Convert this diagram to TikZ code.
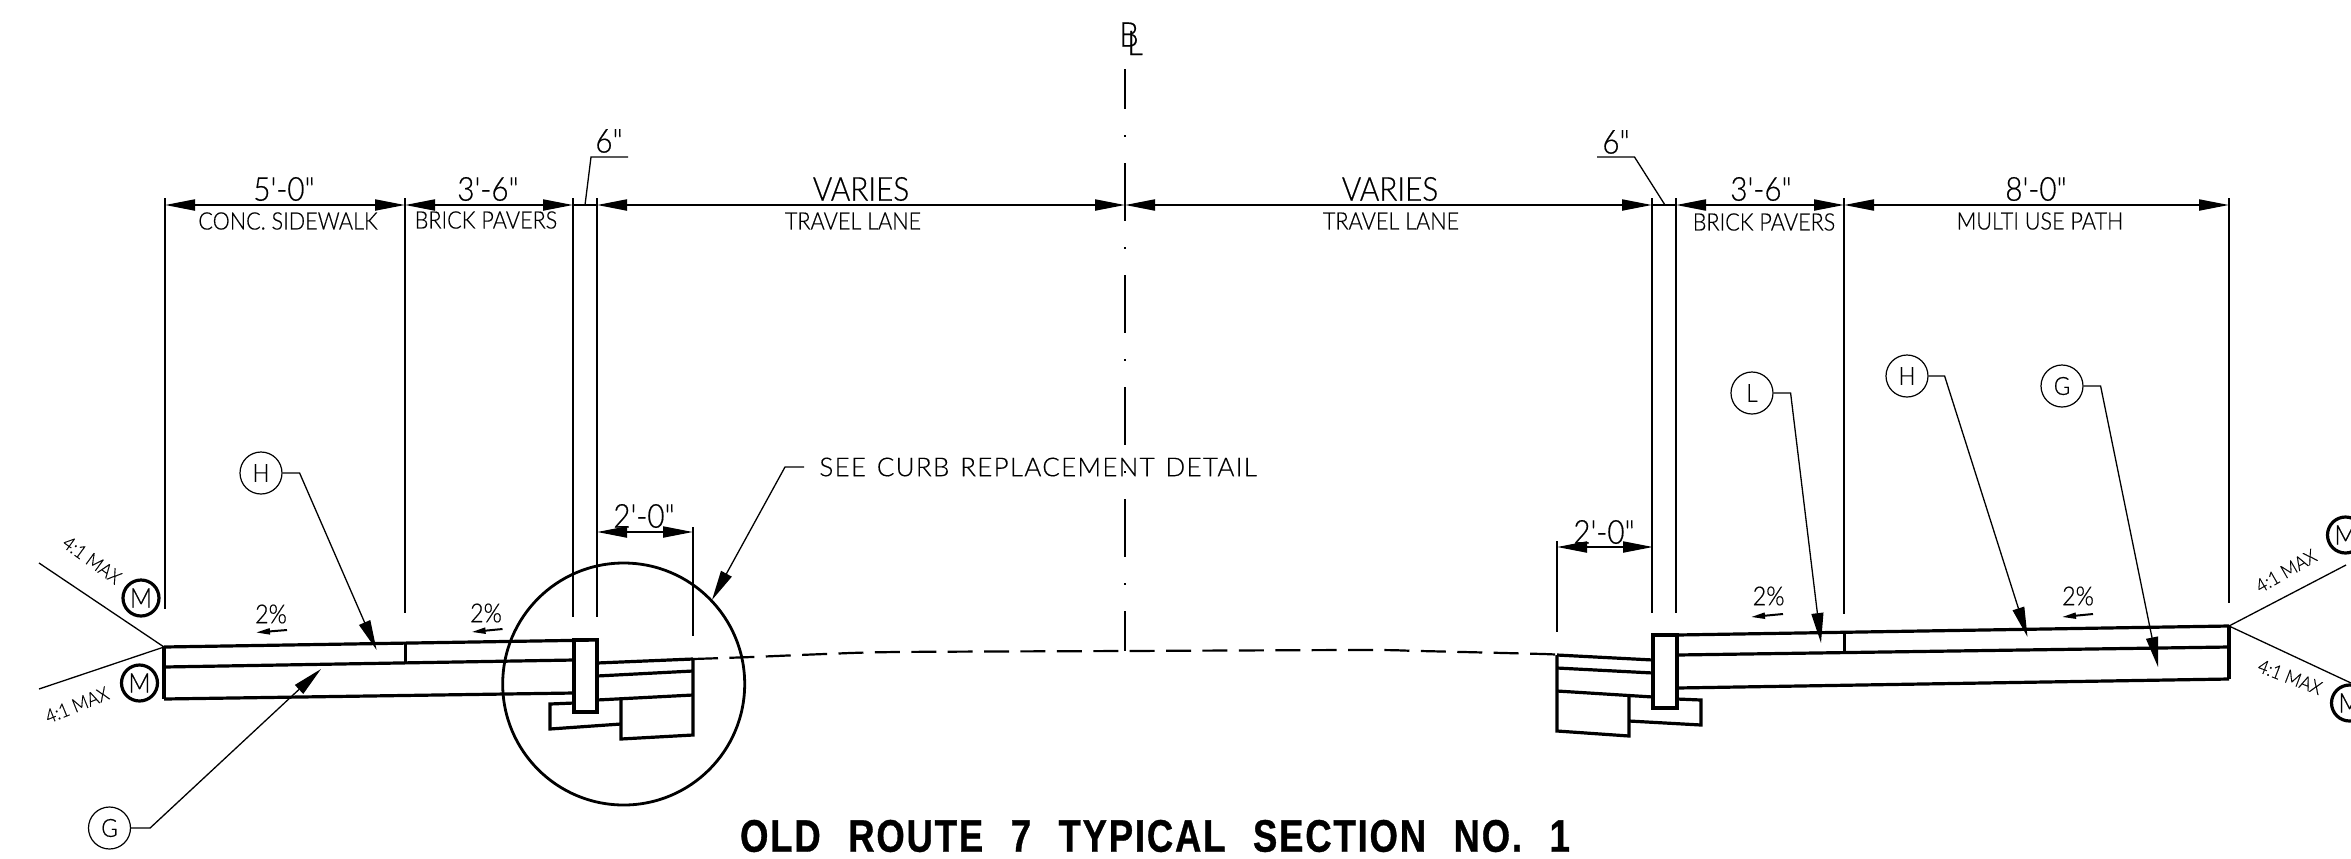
\documentclass[tikz,border=0pt]{standalone}
\usepackage{fontspec}
\setmainfont{Liberation Sans}
\newfontfamily\thin[FakeBold=0.5,FakeStretch=0.9]{Lato Light}
\newfontfamily\titlefont[FakeBold=0.7,FakeStretch=0.8,LetterSpace=4.0,WordSpace=2.3]{Liberation Sans Bold}
\newfontfamily\seefont[FakeBold=0.4,LetterSpace=4.9,WordSpace=1.3]{Lato Light}
\usetikzlibrary{arrows.meta}
\tikzset{
  slab/.style={line width=1.6pt,line join=miter},
  bigc/.style={line width=1.4pt},
  ext/.style={line width=0.8pt},
  dimline/.style={line width=1pt,{Triangle[length=15pt,width=5.5pt]}-{Triangle[length=15pt,width=5.5pt]}},
  plainline/.style={line width=1pt},
  lead/.style={line width=0.65pt,-{Triangle[length=15pt,width=6pt]}},
  elbow/.style={line width=0.65pt},
  slopearr/.style={line width=1pt,-{Triangle[length=7pt,width=3pt]}},
  tag/.style={draw,circle,line width=0.6pt,minimum size=21pt,inner sep=0pt,font=\thin\fontsize{12.5}{14}\selectfont},
  mtag/.style={draw,circle,line width=1.6pt,minimum size=18pt,inner sep=0pt,font=\thin\fontsize{13.5}{14}\selectfont},
  big/.style={inner sep=0pt,font=\thin\fontsize{16.5}{18}\selectfont},
  small/.style={inner sep=0pt,font=\thin\fontsize{12}{13}\selectfont},
  slopetxt/.style={inner sep=0pt,font=\thin\fontsize{13}{14}\selectfont},
  maxtxt/.style={inner sep=0pt,font=\thin\fontsize{9.6}{10}\selectfont},
  road/.style={line width=1.1pt,dash pattern=on 12.5pt off 5.7pt},
}
\begin{document}
\begin{tikzpicture}[x=0.5pt,y=-0.5pt]
\useasboundingbox (0,0) rectangle (2351,858);
% extension lines
\foreach \n/\x/\t/\b in {a/165/198/609,b/405/198/613,c/573/198/617,d/597/198/617,e/1652/198/613,f/1676/198/613,g/1844/198/614,h/2229/198/603}{
  \coordinate (\n) at (\x,205);
  \draw[ext] (\x,\t) -- (\x,\b);
}
\coordinate (m) at (1125,205);
\coordinate (p) at (597,532);
\coordinate (q) at (693,532);
\coordinate (r) at (1557,547);
\coordinate (s) at (1653,547);
\draw[ext] (693,527) -- (693,636);
\draw[ext] (1557,541) -- (1557,632);
% centre line
\draw[ext] (1125,69) -- (1125,109);
\foreach \y in {136,248,360,472,584}{\fill (1123.9,\y-1.2) rectangle (1126.1,\y+1.2);}
\foreach \y/\z in {163/221,275/333,387/445,499/557,611/651}{\draw[ext] (1125,\y) -- (1125,\z);}
% dimensions
\draw[dimline] (a) -- (b);
\draw[dimline] (b) -- (c);
\draw[plainline] (c) -- (d);
\draw[dimline] (d) -- (m);
\draw[dimline] (m) -- (e);
\draw[plainline] (e) -- (f);
\draw[dimline] (f) -- (g);
\draw[dimline] (g) -- (h);
\draw[dimline] (p) -- (q);
\draw[dimline] (r) -- (s);
\node[big] (t1) at (284,189) {5'-0"};
\node[big] (t2) at (488,189) {3'-6"};
\node[big] (t3) at (861,189) {VARIES};
\node[big] (t4) at (1390,189) {VARIES};
\node[big] (t5) at (1761,189) {3'-6"};
\node[big] (t6) at (2036,189) {8'-0"};
\node[big] (t7) at (644,516) {2'-0"};
\node[big] (t8) at (1604,532) {2'-0"};
\node[small] (s1) at (288,221) {CONC. SIDEWALK};
\node[small] (s2) at (486,220) {BRICK PAVERS};
\node[small] (s3) at (853,221) {TRAVEL LANE};
\node[small] (s4) at (1391,221) {TRAVEL LANE};
\node[small] (s5) at (1764,222) {BRICK PAVERS};
\node[small] (s6) at (2040,221) {MULTI USE PATH};
% 6" notes
\node[big] (six1) at (609,141) {6"};
\node[big] (six2) at (1616,142) {6"};
\draw[elbow] (628,157) -- (591,157) -- (585,205);
\draw[elbow] (1597,157) -- (1634.5,157) -- (1665,205);
% CL mark
\node[inner sep=0pt,font=\thin\fontsize{17}{17}\selectfont] (clb) at (1129,34.5) {B};
\node[inner sep=0pt,font=\thin\fontsize{17}{17}\selectfont] (cll) at (1135,43) {L};
% left slab
\draw[slab] (164,647) -- (597,640);
\draw[slab] (164,667) -- (574,660);
\draw[slab] (164,699) -- (574,693);
\draw[slab] (164,647) -- (164,699);
\draw[slab] (405.5,643) -- (405.5,662);
\draw[slab] (574,639.5) rectangle (597,712);
\draw[slab] (597,663) -- (693,659);
\draw[slab] (597,676) -- (693,671);
\draw[slab] (597,700) -- (693,695);
\draw[slab] (693,659) -- (693,735) -- (621,739) -- (621,699);
\draw[slab] (574,703) -- (550,704) -- (550,729) -- (621,724);
% right slab
\draw[slab] (1677,635) -- (2229,626);
\draw[slab] (1677,655) -- (2229,647);
\draw[slab] (1677,688) -- (2229,679);
\draw[slab] (2229,626) -- (2229,679);
\draw[slab] (1844.6,633) -- (1844.6,653);
\draw[slab] (1653,635) rectangle (1677,708);
\draw[slab] (1557,655) -- (1653,660);
\draw[slab] (1557,668) -- (1653,673);
\draw[slab] (1557,691) -- (1653,697);
\draw[slab] (1557,655) -- (1557,731) -- (1629,736) -- (1629,696);
\draw[slab] (1677,699) -- (1701,700) -- (1701,725) -- (1629,721);
% road
\coordinate (roadL) at (693,659);
\coordinate (roadR) at (1557,655);
\draw[road] plot[smooth,tension=0.5] coordinates {(roadL) (752,657) (825,654) (898,652) (1125,651) (1363,650) (1420,651) (1543,654) (roadR)};
% detail circle
\node[draw,circle,bigc,minimum size=121pt,inner sep=0pt] (detail) at (623.7,684) {};
% side slopes
\coordinate (apL) at (164,647);
\coordinate (apR) at (2229,626);
\draw[elbow] (39,563) -- (apL) -- (39,689);
\draw[elbow] (2346,565) -- (apR) -- (2351,683);
\node[mtag] (m1) at (141,598) {M};
\node[mtag] (m2) at (139.5,683) {M};
\node[mtag] (m3) at (2345.5,535) {M};
\node[mtag] (m4) at (2349.5,703) {M};
\node[maxtxt,rotate=-36] (x1) at (92,560) {4:1 MAX};
\node[maxtxt,rotate=22] (x2) at (77,705) {4:1 MAX};
\node[maxtxt,rotate=30] (x3) at (2286,571) {4:1 MAX};
\node[maxtxt,rotate=-21] (x4) at (2290,677) {4:1 MAX};
% slopes
\node[slopetxt] (p1) at (271,614) {2\%};
\node[slopetxt] (p2) at (486,613) {2\%};
\node[slopetxt] (p3) at (1768.6,596) {2\%};
\node[slopetxt] (p4) at (2078,596) {2\%};
\draw[slopearr] (287,630) -- (256,632.5);
\draw[slopearr] (502.5,629) -- (471.6,632);
\draw[slopearr] (1783,614) -- (1751,617);
\draw[slopearr] (2093,614) -- (2062,617);
% tags and leaders
\node[tag] (H1) at (261,473) {H};
\node[tag] (G1) at (109.5,828) {G};
\node[tag] (L2) at (1752,393) {L};
\node[tag] (H2) at (1907,376) {H};
\node[tag] (G2) at (2062,386) {G};
\coordinate (tH1) at (376.6,650);
\coordinate (tG1) at (321,669);
\coordinate (tL2) at (1821,643);
\coordinate (tH2) at (2027.5,637);
\coordinate (tG2) at (2158,667);
\draw[lead] (H1.east) -- ++(17,0) -- (tH1);
\draw[lead] (G1.east) -- ++(19,0) -- (tG1);
\draw[lead] (L2.east) -- ++(17,0) -- (tL2);
\draw[lead] (H2.east) -- ++(16,0) -- (tH2);
\draw[lead] (G2.east) -- ++(17,0) -- (tG2);
% see curb note
\node[anchor=west,inner sep=0pt,font=\seefont\fontsize{13}{15}\selectfont] (see) at (819,467) {SEE CURB REPLACEMENT DETAIL};
\coordinate (tSee) at (712,600);
\draw[lead] (see.west) ++(-15,0) -- ++(-19,0) -- (tSee);
% title
\node[inner sep=0pt,font=\titlefont\fontsize{22.8}{24}\selectfont] (title) at (1155,836) {OLD ROUTE 7 TYPICAL SECTION NO. 1};
\end{tikzpicture}
\end{document}
